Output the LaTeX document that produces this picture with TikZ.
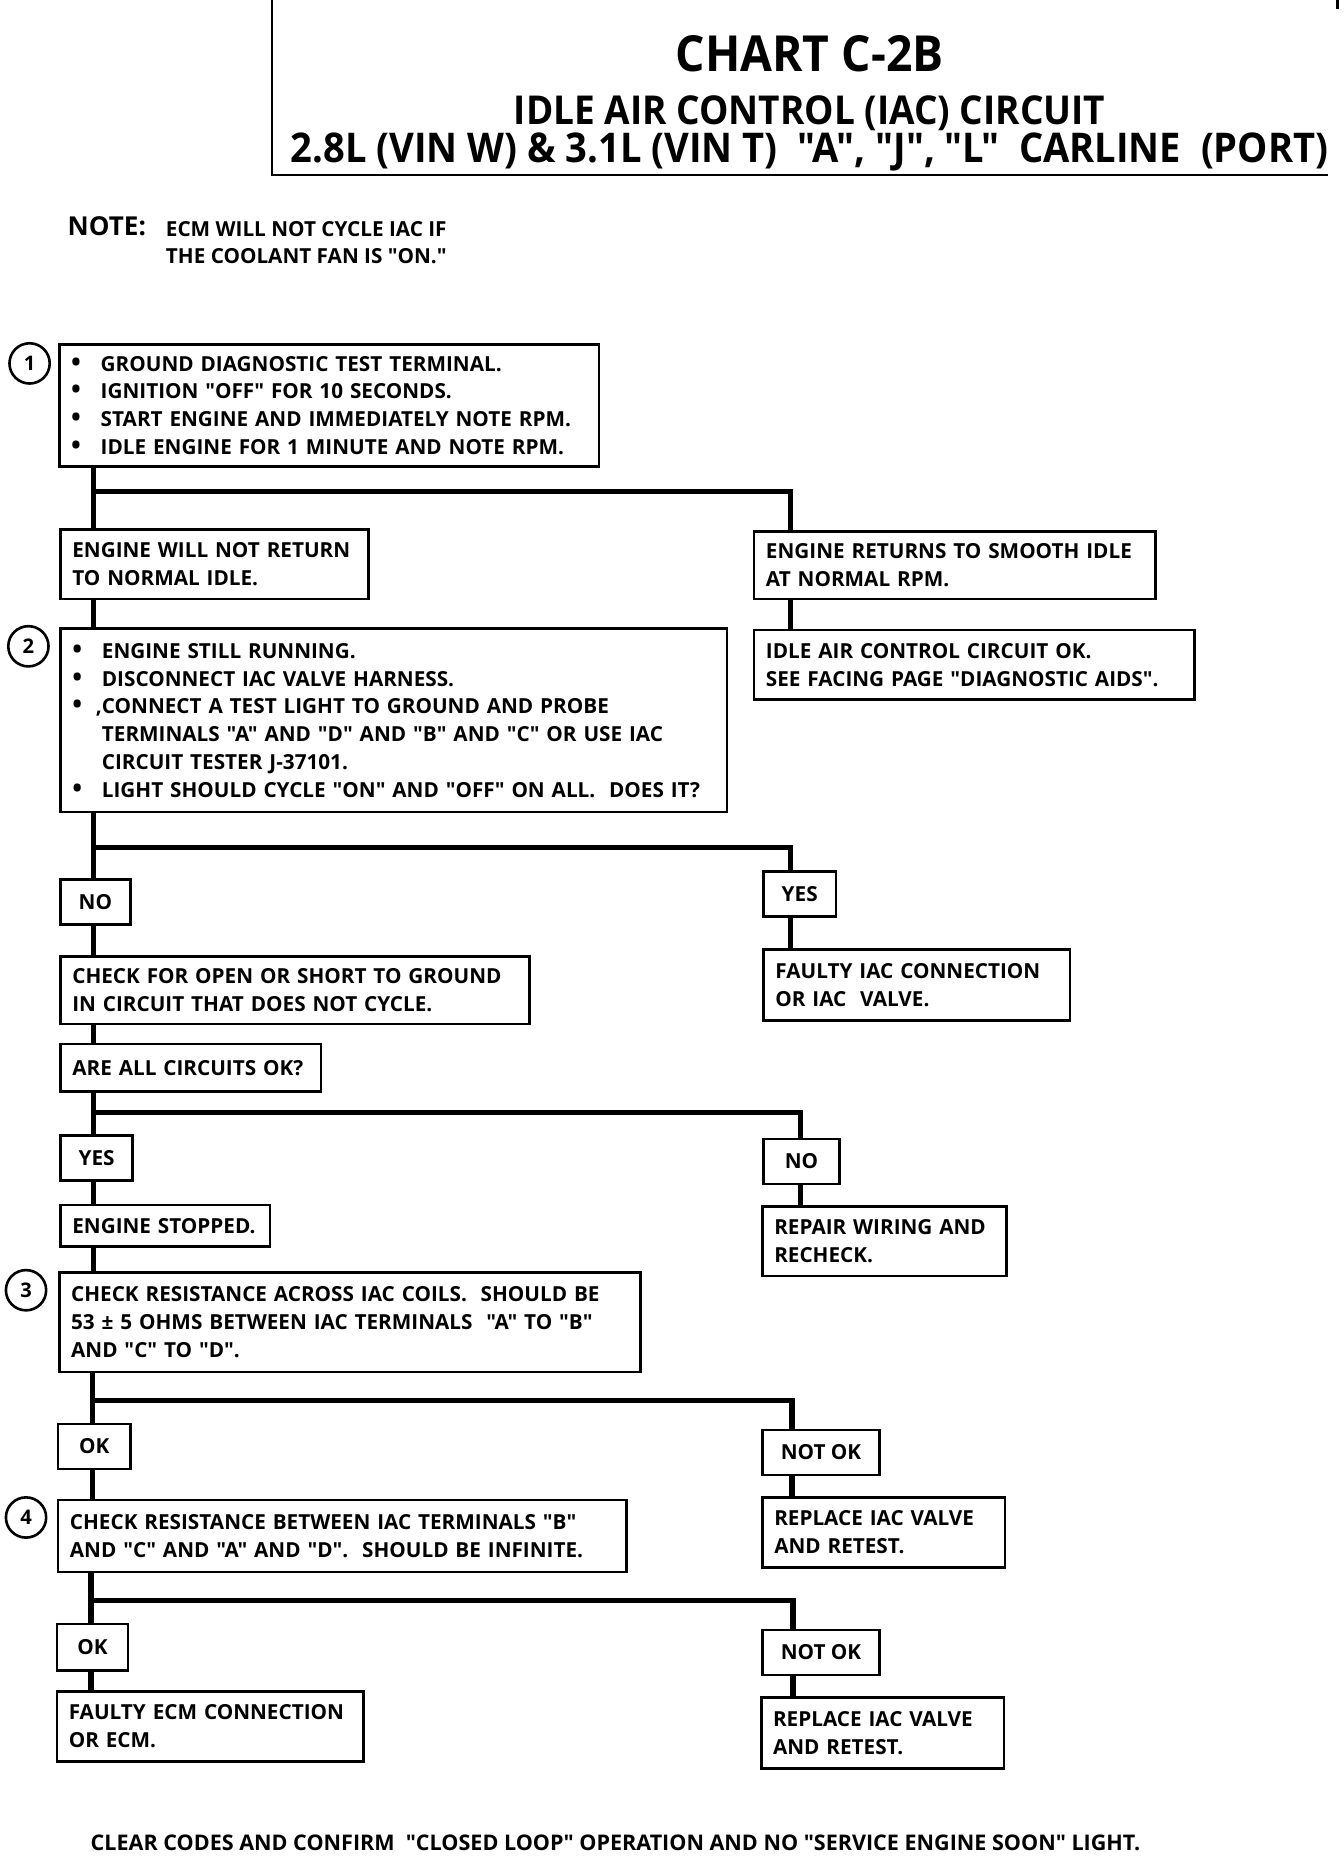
\documentclass[tikz,border=0pt]{standalone}
\usepackage{fontspec}
\setmainfont{Open Sans}
\newfontfamily\bodyfont{Open Sans}
\newfontfamily\titlefont[FakeStretch=0.93]{Open Sans}
\newcommand{\boxfont}{\bodyfont\fontsize{17.5}{23.5}\selectfont\bfseries}
\newcommand{\Bullet}{\makebox[25pt][l]{\fontsize{22}{0}\selectfont\textbullet}}
\newcommand{\Indent}{\hspace*{25pt}}

\begin{document}
\begin{tikzpicture}[x=1pt,y=-1pt]
		\tikzset{Box/.style = {draw, line width=2.2pt, anchor=north west, align=left, inner xsep=10pt, inner ysep=0pt, font=\boxfont},
			Size/.style 2 args = {minimum width=#1pt, minimum height=#2pt, text width=#1pt-20pt},
			Tag/.style = {draw, line width=2.2pt, anchor=north west, inner sep=0pt, font=\boxfont},
			Num/.style = {circle, draw, line width=2.2pt, minimum size=34pt, inner sep=0pt, font=\bodyfont\fontsize{17}{17}\selectfont\bfseries},
			Link/.style = {line width=4.5pt}}
		\useasboundingbox (0,0) rectangle (1135,1568);
		\draw[line width=2pt] (230,0) -- (230,148) -- (1122,148);
		\draw[line width=2pt] (1130,0) -- (1130,8);
		\node[font=\titlefont\fontsize{42}{42}\selectfont\bfseries]   (T1) at (684,45)  {CHART C-2B};
		\node[font=\titlefont\fontsize{33.6}{34}\selectfont\bfseries] (T2) at (684,96)  {IDLE AIR CONTROL (IAC) CIRCUIT};
		\node[font=\titlefont\fontsize{34.6}{35}\selectfont\bfseries] (T3) at (684,128) {2.8L (VIN W) \& 3.1L (VIN T)\ \ "A", "J", "L"\ \ CARLINE\ \ (PORT)};
		\node[anchor=west, inner sep=0pt, font=\bodyfont\fontsize{22}{22}\selectfont\bfseries] (NOTE) at (57,191) {NOTE:};
		\node[anchor=west, inner sep=0pt, align=left, font=\bodyfont\fontsize{17.5}{23}\selectfont\bfseries] (NOTEtxt) at (140,205) {ECM WILL NOT CYCLE IAC IF\\THE COOLANT FAN IS "ON."};

		\node[Num] (N1) at (25,307)  {1};
		\node[Num] (N2) at (24,546)  {2};
		\node[Num] (N3) at (22,1090) {3};
		\node[Num] (N4) at (22,1282) {4};

		\node[Box, Size={456}{103}] (S1) at (49,290) {\Bullet GROUND DIAGNOSTIC TEST TERMINAL.\\ \Bullet IGNITION "OFF" FOR 10 SECONDS.\\ \Bullet START ENGINE AND IMMEDIATELY NOTE RPM.\\ \Bullet IDLE ENGINE FOR 1 MINUTE AND NOTE RPM.};
		\node[Box, Size={260}{59}]  (NR)  at (50,446)  {ENGINE WILL NOT RETURN\\ TO NORMAL IDLE.};
		\node[Box, Size={339}{57}]  (SI)  at (636,448) {ENGINE RETURNS TO SMOOTH IDLE\\ AT NORMAL RPM.};
		\node[Box, Size={372}{59}]  (OKC) at (636,531) {IDLE AIR CONTROL CIRCUIT OK.\\ SEE FACING PAGE "DIAGNOSTIC AIDS".};
		\node[Box, Size={563}{155}] (S2)  at (50,530)  {\Bullet ENGINE STILL RUNNING.\\ \Bullet DISCONNECT IAC VALVE HARNESS.\\ \Bullet \llap{,}CONNECT A TEST LIGHT TO GROUND AND PROBE\\ \Indent TERMINALS "A" AND "D" AND "B" AND "C" OR USE IAC\\ \Indent CIRCUIT TESTER J-37101.\\ \Bullet LIGHT SHOULD CYCLE "ON" AND "OFF" ON ALL.\ \ DOES IT?};
		\node[Tag, minimum width=59pt, minimum height=38pt] (No1)  at (50,742)  {NO};
		\node[Tag, minimum width=61pt, minimum height=38pt] (Yes1) at (644,735) {YES};
		\node[Box, Size={396}{57}]  (CO)  at (50,807)  {CHECK FOR OPEN OR SHORT TO GROUND\\ IN CIRCUIT THAT DOES NOT CYCLE.};
		\node[Box, Size={259}{60}]  (FV)  at (644,801) {FAULTY IAC CONNECTION\\ OR IAC\ \ VALVE.};
		\node[Box, Size={220}{40}]  (AC)  at (50,881)  {ARE ALL CIRCUITS OK?};
		\node[Tag, minimum width=61pt, minimum height=38pt] (Yes2) at (50,958)  {YES};
		\node[Tag, minimum width=64pt, minimum height=38pt] (No2)  at (644,961) {NO};
		\node[Box, Size={177}{35}]  (ES)  at (50,1017)  {ENGINE STOPPED.};
		\node[Box, Size={206}{59}]  (RW)  at (643,1018) {REPAIR WIRING AND\\ RECHECK.};
		\node[Box, Size={491}{84}]  (S3)  at (49,1074)  {CHECK RESISTANCE ACROSS IAC COILS.\ \ SHOULD BE\\ 53 ± 5 OHMS BETWEEN IAC TERMINALS\ \ "A" TO "B"\\ AND "C" TO "D".};
		\node[Tag, minimum width=61pt, minimum height=38pt] (Ok1)    at (48,1202)  {OK};
		\node[Tag, minimum width=99pt, minimum height=38pt] (NotOk1) at (643,1207) {NOT OK};
		\node[Box, Size={480}{61}]  (S4)  at (48,1266)  {CHECK RESISTANCE BETWEEN IAC TERMINALS "B"\\ AND "C" AND "A" AND "D".\ \ SHOULD BE INFINITE.};
		\node[Box, Size={205}{59}]  (RV1) at (643,1264) {REPLACE IAC VALVE\\ AND RETEST.};
		\node[Tag, minimum width=60pt, minimum height=39pt] (Ok2)    at (47,1371)  {OK};
		\node[Tag, minimum width=99pt, minimum height=38pt] (NotOk2) at (643,1376) {NOT OK};
		\node[Box, Size={259}{59}]  (FE)  at (47,1428)  {FAULTY ECM CONNECTION\\ OR ECM.};
		\node[Box, Size={205}{60}]  (RV2) at (642,1433) {REPLACE IAC VALVE\\ AND RETEST.};
		\node[font=\bodyfont\fontsize{18.2}{18}\selectfont\bfseries] (CLEAR) at (520,1557) {CLEAR CODES AND CONFIRM\ \ "CLOSED LOOP" OPERATION AND NO "SERVICE ENGINE SOON" LIGHT.};

		\coordinate (J1) at (79,415);  \coordinate (K1) at (668,415);
		\coordinate (J2) at (79,716);  \coordinate (K2) at (668,716);
		\coordinate (J3) at (79,940);  \coordinate (K3) at (676,940);
		\coordinate (J4) at (78,1183); \coordinate (K4) at (669,1183);
		\coordinate (J5) at (77,1352); \coordinate (K5) at (670,1352);

		\draw[Link] (S1.south -| J1) -- (NR.north -| J1);
		\draw[Link] (J1) -- (K1) -- (SI.north -| K1);
		\draw[Link] (SI.south -| K1) -- (OKC.north -| K1);
		\draw[Link] (NR.south -| J1) -- (S2.north -| J1);

		\draw[Link] (S2.south -| J2) -- (No1.north -| J2);
		\draw[Link] (J2) -- (K2) -- (Yes1.north -| K2);
		\draw[Link] (No1.south -| J2) -- (CO.north -| J2);
		\draw[Link] (Yes1.south -| K2) -- (FV.north -| K2);
		\draw[Link] (CO.south -| J2) -- (AC.north -| J2);

		\draw[Link] (AC.south -| J3) -- (Yes2.north -| J3);
		\draw[Link] (J3) -- (K3) -- (No2.north -| K3);
		\draw[Link] (Yes2.south -| J3) -- (ES.north -| J3);
		\draw[Link] (ES.south -| J3) -- (S3.north -| J3);
		\draw[Link] (No2.south -| K3) -- (RW.north -| K3);

		\draw[Link] (S3.south -| J4) -- (Ok1.north -| J4);
		\draw[Link] (J4) -- (K4) -- (NotOk1.north -| K4);
		\draw[Link] (Ok1.south -| J4) -- (S4.north -| J4);
		\draw[Link] (NotOk1.south -| K4) -- (RV1.north -| K4);

		\draw[Link] (S4.south -| J5) -- (Ok2.north -| J5);
		\draw[Link] (J5) -- (K5) -- (NotOk2.north -| K5);
		\draw[Link] (Ok2.south -| J5) -- (FE.north -| J5);
		\draw[Link] (NotOk2.south -| K5) -- (RV2.north -| K5);
	\end{tikzpicture}
\end{document}
